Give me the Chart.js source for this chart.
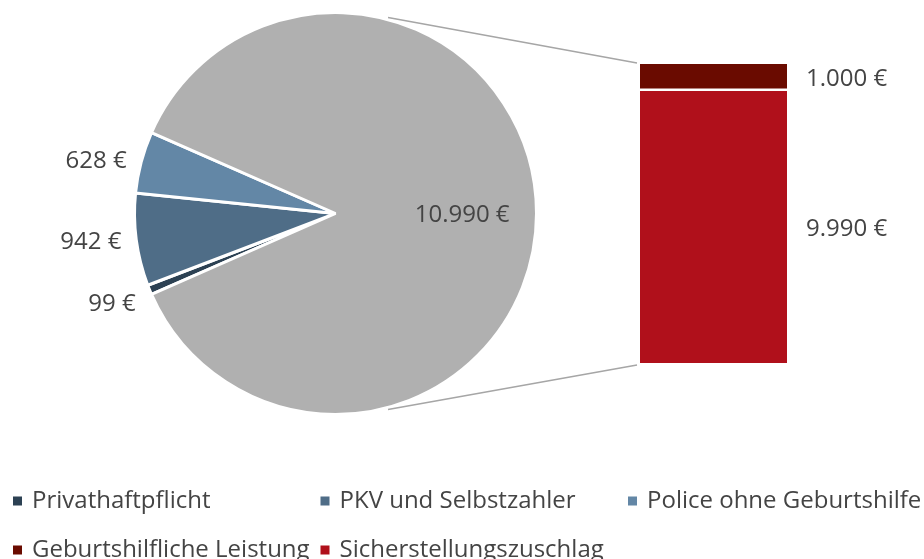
<!DOCTYPE html>
<html>
<head>
<meta charset="utf-8">
<script src="https://cdn.jsdelivr.net/npm/chart.js@4"></script>
<style>
  body { margin: 0; background: #fff; }
  #wrap { position: relative; width: 924px; height: 559px; }
  #wrap canvas { position: absolute; left: 0; top: 0; }
</style>
</head>
<body>
<div id="wrap">
  <canvas id="pieChart" width="924" height="559"></canvas>
  <canvas id="barChart" width="924" height="559"></canvas>
</div>
<script>
// data
const pieLabels = ['Privathaftpflicht', 'PKV und Selbstzahler', 'Police ohne Geburtshilfe', 'Sonstige'];
const pieValues = [99, 942, 628, 10990];
const barLabels = ['Sicherstellungszuschlag', 'Geburtshilfliche Leistung'];
const barValues = [9990, 1000];
const legendLabels = ['Privathaftpflicht', 'PKV und Selbstzahler', 'Police ohne Geburtshilfe',
                      'Geburtshilfliche Leistung', 'Sicherstellungszuschlag'];

const pieColors = ['#2c4153', '#4f6d87', '#6387a6', '#b0b0b0'];
const barColors = ['#b0101b', '#6a0b00'];
const legendColors = ['#2c4153', '#4f6d87', '#6387a6', '#6a0b00', '#b0101b'];
const textColor = '#444444';
const font = '24px "Open Sans"';

function euro(v) {
  return v.toLocaleString('de-DE') + ' €';
}

// small slices centred on the left side
let smallSum = 0;
for (let i = 0; i < pieValues.length - 1; i++) smallSum += pieValues[i];
const total = smallSum + pieValues[pieValues.length - 1];
const rotation = 270 - (smallSum / total) * 180;

const pieLabelPlugin = {
  id: 'pieLabels',
  afterDatasetsDraw(chart) {
    const ctx = chart.ctx;
    const arcs = chart.getDatasetMeta(0).data;
    const nudge = [9, 0, 3];
    ctx.save();
    ctx.font = font;
    ctx.fillStyle = textColor;
    ctx.textBaseline = 'middle';
    arcs.forEach((arc, i) => {
      const mid = (arc.startAngle + arc.endAngle) / 2;
      if (i === arcs.length - 1) {
        const r = arc.outerRadius * 0.63;
        ctx.textAlign = 'center';
        ctx.fillText(euro(pieValues[i]), arc.x + r * Math.cos(mid), arc.y + r * Math.sin(mid) + 2);
      } else {
        const r = arc.outerRadius + 15;
        ctx.textAlign = 'right';
        ctx.fillText(euro(pieValues[i]), arc.x + r * Math.cos(mid), arc.y + r * Math.sin(mid) + nudge[i]);
      }
    });
    ctx.restore();
  }
};

const pieChart = new Chart(document.getElementById('pieChart'), {
  type: 'pie',
  data: {
    labels: pieLabels,
    datasets: [{
      data: pieValues,
      backgroundColor: pieColors,
      borderColor: '#ffffff',
      borderWidth: 3
    }]
  },
  options: {
    responsive: false,
    animation: false,
    rotation: rotation,
    layout: { padding: { left: 133, right: 386, top: 11, bottom: 143 } },
    plugins: {
      legend: { display: false },
      tooltip: { enabled: false }
    }
  },
  plugins: [pieLabelPlugin]
});

const barExtrasPlugin = {
  id: 'barExtras',
  afterDatasetsDraw(chart) {
    const ctx = chart.ctx;
    const bottomEl = chart.getDatasetMeta(0).data[0];
    const topEl = chart.getDatasetMeta(1).data[0];
    const left = topEl.x - topEl.width / 2;
    const right = topEl.x + topEl.width / 2;
    const arc = pieChart.getDatasetMeta(0).data[0];
    const r = arc.outerRadius + 2;
    const a = 75 * Math.PI / 180;

    ctx.save();
    // connector lines
    ctx.strokeStyle = '#a6a6a6';
    ctx.lineWidth = 1.5;
    ctx.beginPath();
    ctx.moveTo(arc.x + r * Math.cos(-a), arc.y + r * Math.sin(-a));
    ctx.lineTo(left - 3, topEl.y - 1);
    ctx.moveTo(arc.x + r * Math.cos(a), arc.y + r * Math.sin(a));
    ctx.lineTo(left - 3, bottomEl.base + 2);
    ctx.stroke();

    // bar value labels
    ctx.font = font;
    ctx.fillStyle = textColor;
    ctx.textAlign = 'left';
    ctx.textBaseline = 'middle';
    ctx.fillText(euro(barValues[1]), right + 19, (topEl.y + topEl.base) / 2 + 2);
    ctx.fillText(euro(barValues[0]), right + 19, (bottomEl.y + bottomEl.base) / 2 + 2);

    // legend
    legendLabels.forEach((txt, i) => {
      const col = i % 3;
      const row = Math.floor(i / 3);
      const bx = 13 + col * 307.5;
      const cy = 501 + row * 49;
      ctx.fillStyle = legendColors[i];
      ctx.fillRect(bx, cy - 4.5, 9, 9);
      ctx.fillStyle = textColor;
      ctx.fillText(txt, bx + 19, cy);
    });
    ctx.restore();
  }
};

new Chart(document.getElementById('barChart'), {
  type: 'bar',
  data: {
    labels: [''],
    datasets: [{
      label: barLabels[0],
      data: [barValues[0]],
      backgroundColor: barColors[0],
      borderWidth: 0
    }, {
      label: barLabels[1],
      data: [barValues[1]],
      backgroundColor: barColors[1],
      borderColor: '#ffffff',
      borderWidth: { top: 0, left: 0, right: 0, bottom: 3 },
      borderSkipped: false
    }]
  },
  options: {
    responsive: false,
    animation: false,
    layout: { padding: { left: 640, right: 137, top: 64, bottom: 196 } },
    datasets: { bar: { barPercentage: 1, categoryPercentage: 1 } },
    scales: {
      x: { stacked: true, display: false },
      y: { stacked: true, display: false, min: 0, max: barValues[0] + barValues[1] }
    },
    plugins: {
      legend: { display: false },
      tooltip: { enabled: false }
    }
  },
  plugins: [barExtrasPlugin]
});
</script>
</body>
</html>
